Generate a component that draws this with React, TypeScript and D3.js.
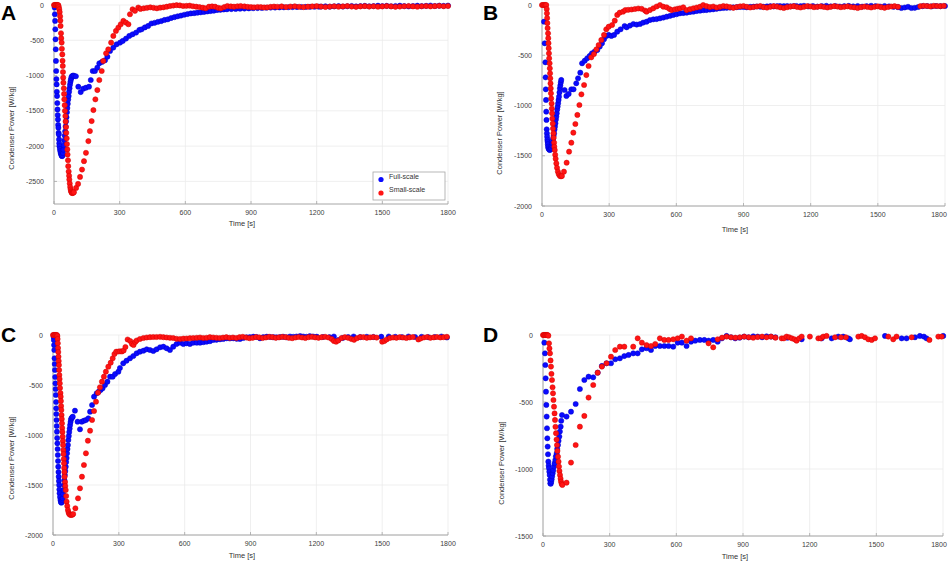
import React from 'react';
import * as d3 from 'd3';

type Pt = [number, number];

// time [s], condenser power [W/kg]
const fullA: Pt[] = [
  [3,-36],[4,-131],[5,-225],[6,-344],[7,-486],[8,-628],[9,-793],[10,-935],[11,-1050],[12,-1125],[13,-1230],[14,-1290],
  [15,-1390],[16,-1480],[17,-1560],[18,-1622],[19,-1700],[20,-1740],[21,-1811],[22,-1834],[23,-1905],[24,-1960],[25,-2000],
  [27,-2040],[29,-2071],[31,-2100],[33,-2119],[35,-2135],[37,-2142],[39,-2130],[41,-2100],[43,-2050],[45,-1990],[47,-1920],
  [49,-1850],[51,-1790],[53,-1720],[55,-1650],[57,-1590],[59,-1520],[61,-1460],[63,-1400],[65,-1340],[67,-1290],[69,-1230],
  [71,-1180],[73,-1130],[75,-1090],[77,-1060],[79,-1035],[81,-1015],[84,-1005],[88,-1000],[93,-1006],[100,-1010],
  [111,-1158],[122,-1234],[134,-1186],[146,-1172],[160,-1158],[168,-1063],[177,-935],[187,-935],[198,-888],[207,-826],
  [219,-807],[233,-784],[244,-732],[256,-651],[271,-604],[286,-557],[302,-533],[314,-509],[329,-476],[344,-438],[359,-415],
  [375,-391],[390,-353],[400,-345],[415,-318],[430,-297],[445,-262],[460,-252],[475,-238],[490,-228],[505,-212],[520,-203],
  [535,-185],[550,-172],[565,-160],[580,-150],[595,-138],[610,-128],[625,-120],[640,-116],[655,-109],[670,-104],[685,-99],
  [700,-92],[715,-86],[730,-80],[745,-72],[760,-68],[775,-64],[790,-61],[810,-58],[830,-55],[850,-52],[870,-50],[890,-48],
  [910,-46],[930,-44],[950,-42],[970,-39],[990,-37],[1010,-36],[1030,-34],[1050,-33],[1070,-32],[1090,-30],[1110,-29],
  [1130,-28],[1150,-27],[1170,-26],[1190,-25],[1210,-24],[1220,-22],[1240,-18],[1260,-24],[1280,-20],[1300,-15],[1320,-22],
  [1340,-18],[1360,-14],[1380,-20],[1400,-16],[1420,-12],[1440,-18],[1460,-15],[1480,-10],[1500,-16],[1520,-12],[1540,-18],
  [1560,-14],[1580,-10],[1600,-15],[1620,-20],[1640,-14],[1660,-10],[1680,-16],[1700,-12],[1720,-8],[1740,-14],[1760,-10],
  [1780,-12],[1800,-8],
];

const smallA: Pt[] = [
  [0,0],[3,0],[6,0],[9,0],[12,0],[15,0],[18,0],[20,-5],[22,-30],[24,-60],[26,-100],[28,-160],[29,-220],[30,-296],[32,-400],
  [33,-470],[35,-533],[36,-620],[38,-700],[39,-790],[40,-864],[41,-950],[42,-1030],[43,-1101],[45,-1180],[46,-1260],
  [47,-1337],[49,-1420],[50,-1500],[52,-1574],[53,-1650],[55,-1730],[56,-1811],[58,-1890],[59,-1970],[61,-2047],[62,-2120],
  [64,-2200],[65,-2284],[67,-2360],[69,-2420],[70,-2473],[72,-2530],[74,-2580],[76,-2615],[78,-2640],[80,-2655],[82,-2663],
  [85,-2665],[88,-2660],[91,-2653],[101,-2592],[110,-2535],[119,-2436],[128,-2332],[137,-2213],[146,-2095],[157,-1929],
  [164,-1787],[172,-1645],[180,-1489],[189,-1337],[198,-1205],[207,-1063],[218,-935],[225,-793],[238,-684],[248,-628],
  [261,-533],[271,-438],[283,-367],[294,-320],[305,-273],[317,-225],[329,-249],[340,-273],[347,-131],[359,-60],[370,-83],
  [385,-36],[395,-55],[410,-47],[425,-40],[440,-33],[455,-40],[470,-47],[485,-38],[500,-33],[515,-24],[530,-14],[545,-8],
  [560,-2],[575,-6],[590,-14],[605,-12],[620,-9],[635,-18],[650,-24],[665,-30],[680,-38],[693,-47],[708,-24],[722,-20],
  [736,-24],[750,-40],[762,-47],[778,-28],[792,-14],[808,-20],[822,-24],[838,-18],[853,-14],[870,-20],[885,-26],[900,-30],
  [914,-33],[930,-28],[945,-30],[960,-35],[975,-33],[990,-26],[1005,-22],[1020,-25],[1040,-20],[1060,-28],[1080,-22],
  [1100,-18],[1120,-25],[1140,-30],[1160,-24],[1180,-20],[1200,-16],[1220,-22],[1240,-28],[1260,-22],[1280,-18],[1300,-24],
  [1320,-20],[1340,-15],[1360,-22],[1380,-26],[1400,-20],[1420,-16],[1440,-22],[1460,-18],[1480,-24],[1500,-20],[1520,-15],
  [1540,-20],[1560,-26],[1580,-22],[1600,-18],[1620,-14],[1640,-20],[1660,-24],[1680,-18],[1700,-15],[1720,-20],[1740,-16],
  [1760,-12],[1780,-18],[1800,-14],
];

const fullB: Pt[] = [
  [9,-166],[12,-381],[15,-570],[16,-720],[17,-839],[18,-945],[19,-1061],[20,-1144],[21,-1237],[22,-1277],[23,-1310],
  [24,-1340],[25,-1360],[26,-1385],[27,-1410],[29,-1425],[31,-1435],[34,-1443],[37,-1440],[40,-1430],[42,-1426],[44,-1400],
  [46,-1376],[48,-1350],[50,-1327],[52,-1300],[54,-1277],[56,-1240],[58,-1210],[60,-1177],[62,-1140],[64,-1110],[66,-1078],
  [68,-1040],[70,-1010],[72,-978],[74,-945],[76,-912],[78,-870],[80,-829],[82,-800],[84,-770],[86,-746],[101,-846],
  [109,-905],[119,-885],[131,-839],[141,-839],[153,-779],[161,-729],[171,-673],[179,-580],[191,-554],[202,-530],[213,-507],
  [223,-481],[235,-464],[247,-448],[258,-414],[268,-381],[277,-341],[288,-308],[298,-298],[310,-308],[322,-298],[336,-265],
  [351,-242],[369,-209],[378,-222],[393,-205],[408,-189],[423,-195],[438,-189],[452,-175],[467,-166],[482,-150],[497,-143],
  [512,-140],[527,-133],[542,-125],[557,-116],[572,-108],[586,-99],[601,-92],[616,-83],[631,-80],[646,-76],[661,-70],
  [676,-66],[691,-60],[706,-56],[721,-52],[735,-50],[750,-46],[765,-43],[780,-38],[795,-33],[810,-30],[825,-28],[840,-26],
  [854,-23],[870,-22],[885,-20],[900,-20],[914,-23],[930,-18],[945,-17],[960,-15],[975,-17],[988,-17],[1005,-14],[1020,-12],
  [1035,-14],[1050,-12],[1063,-10],[1080,-12],[1095,-10],[1110,-13],[1125,-10],[1137,-10],[1155,-12],[1170,-8],[1190,-14],
  [1210,-10],[1230,-16],[1250,-12],[1270,-8],[1290,-14],[1310,-10],[1330,-15],[1350,-12],[1370,-9],[1390,-14],[1410,-10],
  [1430,-16],[1450,-12],[1470,-8],[1490,-12],[1510,-15],[1530,-10],[1550,-14],[1570,-18],[1590,-22],[1605,-30],[1620,-25],
  [1635,-18],[1650,-30],[1665,-28],[1680,-20],[1700,-12],[1720,-10],[1740,-14],[1760,-10],[1780,-12],[1800,-10],
];

const smallB: Pt[] = [
  [0,0],[4,0],[8,0],[12,0],[16,0],[19,0],[21,-40],[22,-83],[23,-130],[24,-180],[25,-230],[27,-282],[28,-330],[29,-380],
  [30,-430],[31,-481],[32,-530],[34,-580],[35,-630],[36,-680],[37,-730],[38,-780],[39,-830],[40,-879],[41,-930],[43,-980],
  [44,-1030],[45,-1078],[46,-1130],[48,-1180],[49,-1230],[51,-1277],[52,-1320],[54,-1370],[55,-1410],[57,-1443],[59,-1490],
  [61,-1530],[64,-1576],[67,-1620],[71,-1658],[75,-1685],[80,-1701],[85,-1705],[89,-1701],[98,-1658],[110,-1569],
  [121,-1459],[131,-1370],[140,-1270],[149,-1184],[158,-1094],[167,-995],[176,-889],[188,-796],[198,-697],[208,-607],
  [220,-521],[232,-488],[243,-441],[253,-398],[265,-348],[277,-298],[287,-242],[298,-216],[313,-199],[325,-156],[336,-99],
  [347,-76],[362,-66],[372,-50],[385,-48],[400,-45],[415,-40],[430,-35],[445,-38],[460,-55],[467,-66],[482,-50],[497,-33],
  [512,-15],[527,0],[542,-17],[557,-23],[570,-40],[579,-50],[594,-43],[606,-38],[616,-33],[631,-23],[646,-50],[661,-42],
  [676,-33],[691,-25],[706,-17],[720,0],[735,-12],[750,-20],[765,-15],[780,-25],[795,-18],[810,-10],[825,-14],[840,-22],
  [855,-28],[870,-20],[885,-14],[900,-10],[915,-18],[930,-25],[945,-20],[960,-15],[975,-10],[990,-22],[1005,-26],[1020,-18],
  [1035,-12],[1050,-16],[1065,-24],[1080,-30],[1095,-22],[1110,-16],[1125,-12],[1140,-20],[1155,-25],[1170,-18],[1185,-12],
  [1200,-15],[1215,-22],[1230,-18],[1245,-14],[1260,-20],[1275,-25],[1290,-18],[1305,-12],[1320,-16],[1335,-22],[1350,-18],
  [1365,-14],[1380,-20],[1395,-24],[1410,-30],[1425,-22],[1440,-16],[1455,-20],[1470,-25],[1485,-18],[1500,-14],[1515,-22],
  [1530,-28],[1545,-20],[1560,-15],[1575,-12],[1590,-18],[1690,-12],[1705,-8],[1720,-10],[1735,-14],[1750,-8],[1765,-10],
  [1780,-12],[1795,-8],
];

const fullC: Pt[] = [
  [3,-20],[4,-50],[5,-100],[6,-150],[7,-233],[8,-290],[9,-350],[10,-420],[11,-483],[12,-540],[13,-600],[14,-670],
  [14.5,-733],[15,-790],[16,-850],[17,-910],[18,-967],[19,-1030],[20,-1083],[21,-1140],[22,-1200],[23,-1260],[24,-1317],
  [25,-1370],[26,-1417],[27,-1460],[28,-1500],[29,-1545],[30,-1583],[32,-1620],[34,-1650],[36,-1670],[38,-1677],[40,-1670],
  [42,-1650],[44,-1633],[46,-1590],[48,-1550],[50,-1500],[52,-1450],[54,-1400],[56,-1360],[58,-1317],[60,-1270],[62,-1230],
  [64,-1183],[66,-1140],[68,-1100],[70,-1050],[72,-1010],[74,-970],[76,-935],[78,-900],[80,-870],[82,-845],[84,-833],
  [87,-825],[90,-817],[100,-757],[112,-867],[123,-943],[131,-867],[141,-857],[150,-850],[161,-833],[169,-767],[178,-700],
  [187,-617],[199,-583],[208,-567],[217,-550],[226,-533],[237,-500],[248,-467],[260,-417],[272,-417],[283,-390],[298,-367],
  [305,-330],[320,-283],[335,-257],[351,-233],[366,-210],[381,-183],[396,-167],[412,-157],[427,-143],[442,-150],[457,-160],
  [472,-143],[488,-123],[503,-117],[518,-133],[533,-150],[548,-117],[563,-90],[579,-77],[594,-90],[609,-83],[624,-90],
  [639,-77],[655,-77],[670,-77],[685,-72],[700,-67],[715,-62],[730,-50],[745,-48],[761,-43],[776,-40],[791,-33],[806,-35],
  [822,-33],[837,-38],[852,-40],[867,-30],[882,-23],[897,-22],[913,-17],[928,-20],[943,-33],[958,-22],[974,-17],[990,-20],
  [1005,-22],[1019,-23],[1035,-20],[1050,-18],[1065,-23],[1080,-15],[1095,-18],[1110,-15],[1126,-10],[1140,-15],[1155,-18],
  [1170,-12],[1185,-15],[1202,-17],[1230,-20],[1260,-22],[1280,-15],[1300,-50],[1320,-30],[1345,-20],[1370,-15],[1400,-22],
  [1430,-18],[1460,-20],[1496,-17],[1530,-15],[1560,-18],[1590,-22],[1620,-15],[1650,-20],[1680,-18],[1710,-22],[1740,-20],
  [1770,-15],[1795,-25],
];

const smallC: Pt[] = [
  [0,0],[3,0],[6,0],[9,0],[12,0],[15,0],[18,0],[20,-10],[21,-40],[22,-83],[23,-130],[24,-170],[25,-217],[26,-260],[27,-300],
  [28,-350],[29,-400],[30,-440],[31,-483],[32,-530],[34,-580],[35,-617],[36,-660],[37,-710],[38,-750],[39,-800],[40,-840],
  [41,-883],[42,-930],[43,-970],[44,-1017],[45,-1060],[46,-1100],[47,-1150],[48,-1190],[49,-1240],[50,-1283],[51,-1330],
  [52,-1370],[53,-1417],[55,-1470],[56,-1510],[58,-1550],[60,-1610],[62,-1667],[65,-1710],[68,-1750],[71,-1775],[74,-1790],
  [78,-1798],[83,-1800],[88,-1797],[92,-1790],[102,-1733],[114,-1633],[123,-1533],[132,-1417],[141,-1300],[150,-1183],
  [159,-1057],[169,-957],[178,-850],[187,-760],[196,-667],[205,-577],[214,-523],[223,-467],[232,-417],[241,-367],[252,-317],
  [263,-277],[272,-233],[280,-190],[288,-167],[298,-165],[306,-163],[314,-165],[322,-155],[330,-120],[340,-45],[352,-60],
  [360,-90],[367,-100],[375,-70],[381,-55],[396,-40],[412,-30],[427,-25],[442,-22],[457,-20],[472,-20],[488,-18],[503,-22],
  [518,-25],[533,-28],[548,-30],[563,-38],[579,-40],[594,-36],[609,-35],[624,-32],[639,-30],[655,-28],[670,-25],[685,-30],
  [700,-28],[715,-22],[730,-25],[745,-28],[760,-30],[775,-26],[790,-22],[805,-28],[820,-25],[835,-30],[850,-22],[865,-18],
  [880,-25],[895,-32],[910,-28],[925,-20],[940,-24],[955,-30],[970,-25],[985,-18],[1000,-22],[1015,-28],[1030,-24],
  [1045,-18],[1060,-22],[1075,-28],[1090,-32],[1105,-25],[1120,-20],[1135,-25],[1150,-30],[1165,-22],[1180,-18],[1195,-24],
  [1210,-28],[1225,-22],[1240,-18],[1255,-25],[1270,-40],[1280,-60],[1290,-67],[1300,-55],[1315,-30],[1330,-22],[1345,-28],
  [1360,-40],[1372,-48],[1385,-32],[1400,-20],[1415,-22],[1430,-28],[1445,-24],[1460,-20],[1475,-26],[1500,-67],[1510,-60],
  [1520,-45],[1535,-30],[1550,-25],[1565,-28],[1580,-22],[1595,-25],[1610,-30],[1625,-24],[1640,-20],[1665,-45],[1675,-35],
  [1690,-25],[1705,-20],[1720,-28],[1735,-24],[1750,-20],[1765,-25],[1780,-22],[1795,-18],
];

const fullD: Pt[] = [
  [6,-57],[9,-137],[10.5,-224],[12,-323],[13.5,-423],[15,-522],[16.5,-609],[18,-696],[19.5,-771],[21,-833],[22.5,-890],
  [24,-945],[25.5,-975],[27,-995],[28.5,-1020],[30,-1045],[31.5,-1080],[33,-1107],[35,-1110],[37,-1095],[39,-1077],
  [41,-1055],[43.5,-1032],[46,-1010],[49.5,-982],[52,-958],[55.5,-933],[58,-905],[61.5,-883],[64,-850],[67.5,-821],
  [70,-790],[73.5,-758],[76,-720],[79.5,-684],[82,-640],[85.5,-597],[106,-609],[126,-572],[147,-515],[166,-403],[186,-336],
  [205,-311],[226,-316],[246,-281],[265,-231],[286,-211],[306,-211],[325,-181],[346,-174],[366,-157],[385,-149],[406,-137],
  [426,-137],[445,-107],[466,-99],[486,-112],[505,-82],[526,-82],[546,-82],[565,-82],[586,-87],[606,-57],[625,-57],
  [646,-82],[666,-50],[685,-42],[706,-37],[726,-37],[745,-42],[766,-37],[786,-50],[805,-25],[826,-7],[846,-17],[865,-25],
  [885,-20],[905,-12],[925,-17],[946,-10],[966,-12],[986,-17],[1006,-10],[1026,-12],[1046,-17],[1100,-20],[1164,-32],
  [1254,-25],[1299,-25],[1329,-12],[1351,-12],[1374,-25],[1381,-32],[1539,-7],[1614,-25],[1636,-25],[1674,-17],[1696,-7],
  [1714,-12],[1726,-25],[1801,-7],
];

const smallD: Pt[] = [
  [0,0],[3,0],[6,0],[9,0],[12,0],[15,0],[18,0],[21,0],[24,-5],[27,-62],[29,-100],[31.5,-137],[34,-190],[36,-236],[38,-290],
  [40.5,-336],[43,-390],[45,-435],[47,-485],[49.5,-535],[52,-585],[54,-634],[56,-685],[58.5,-733],[61,-780],[63,-821],
  [65,-865],[67.5,-908],[70,-945],[72,-982],[74,-1015],[76.5,-1045],[79,-1072],[81,-1094],[84,-1110],[87,-1119],
  [106,-1102],[126,-952],[147,-821],[166,-684],[186,-604],[205,-467],[226,-373],[246,-281],[265,-236],[286,-211],[306,-162],
  [325,-112],[346,-87],[366,-87],[406,-87],[426,-25],[445,-57],[466,-75],[486,-82],[505,-67],[526,-25],[546,-37],[565,-37],
  [586,-32],[606,-25],[625,-12],[646,-42],[666,-25],[745,-62],[766,-92],[786,-32],[806,-20],[826,-12],[846,-17],[866,-20],
  [886,-17],[906,-12],[926,-17],[946,-20],[966,-15],[986,-12],[1006,-17],[1026,-12],[1046,-20],[1074,-25],[1084,-25],
  [1096,-12],[1108,-17],[1120,-25],[1132,-32],[1141,-42],[1153,-25],[1164,-12],[1201,-12],[1239,-25],[1250,-25],[1261,-12],
  [1276,-7],[1314,-17],[1341,-17],[1363,-17],[1419,-12],[1434,-7],[1449,-17],[1464,-32],[1479,-37],[1494,-25],[1554,-12],
  [1576,-32],[1591,-12],[1659,-17],[1739,-37],[1779,-12],[1794,-12],
];

const timeTicks = [0, 300, 600, 900, 1200, 1500, 1800];
const powerTicksA = [0, -500, -1000, -1500, -2000, -2500];
const powerTicksBC = [0, -500, -1000, -1500, -2000];
const powerTicksD = [0, -500, -1000, -1500];
const seriesNames = ['Full-scale', 'Small-scale'];

const BLUE = '#0a0aff';
const RED = '#ff1414';
const FONT = '"Liberation Sans", Arial, sans-serif';
const W = 948;

interface PanelProps {
  letter: string;
  full: Pt[];
  small: Pt[];
  yMin: number;
  yTicks: number[];
  box: { x0: number; x1: number; y0: number; y1: number };
  ylab: [number, number];
  xlab: [number, number];
  letterPos: [number, number];
  legend?: boolean;
}

const Panel: React.FC<PanelProps> = ({ letter, full, small, yMin, yTicks, box, ylab, xlab, letterPos, legend }) => {
  const x = d3.scaleLinear().domain([0, 1800]).range([box.x0, box.x1]);
  const y = d3.scaleLinear().domain([yMin, 0]).range([box.y1, box.y0]);

  return (
    <g>
      {timeTicks.map(t => (
        <line key={'gx' + t} x1={x(t)} x2={x(t)} y1={box.y0} y2={box.y1} stroke="#ebebeb" strokeWidth={0.8} />
      ))}
      {yTicks.map(v => (
        <line key={'gy' + v} x1={box.x0} x2={box.x1} y1={y(v)} y2={y(v)} stroke="#ebebeb" strokeWidth={0.8} />
      ))}
      <line x1={box.x0} x2={box.x0} y1={box.y0} y2={box.y1} stroke="#a6a6a6" strokeWidth={1} />
      <line x1={box.x0} x2={box.x1} y1={box.y1} y2={box.y1} stroke="#a6a6a6" strokeWidth={1} />
      {timeTicks.map(t => (
        <g key={'tx' + t}>
          <line x1={x(t)} x2={x(t)} y1={box.y1} y2={box.y1 - 3} stroke="#a6a6a6" strokeWidth={0.8} />
          <text x={Math.min(x(t), W - 9)} y={box.y1 + 11} fontSize={7} fill="#404040" textAnchor="middle" fontFamily={FONT}>{t}</text>
        </g>
      ))}
      {yTicks.map(v => (
        <g key={'ty' + v}>
          <line x1={box.x0} x2={box.x0 + 3} y1={y(v)} y2={y(v)} stroke="#a6a6a6" strokeWidth={0.8} />
          <text x={box.x0 - 10} y={y(v) + 2.5} fontSize={7} fill="#404040" textAnchor="end" fontFamily={FONT}>{v}</text>
        </g>
      ))}
      {full.map((d, i) => (
        <circle key={'f' + i} cx={x(d[0])} cy={y(d[1])} r={2.6} fill={BLUE} stroke="#0000c8" strokeWidth={0.5} />
      ))}
      {small.map((d, i) => (
        <circle key={'s' + i} cx={x(d[0])} cy={y(d[1])} r={2.6} fill={RED} stroke="#d20000" strokeWidth={0.5} />
      ))}
      <text x={ylab[0]} y={ylab[1]} fontSize={7.5} fill="#333" textAnchor="middle" fontFamily={FONT}
        transform={`rotate(-90 ${ylab[0]} ${ylab[1]})`} dominantBaseline="middle">Condenser Power [W/kg]</text>
      <text x={xlab[0]} y={xlab[1]} fontSize={7.5} fill="#333" textAnchor="middle" fontFamily={FONT}>Time [s]</text>
      <text x={letterPos[0]} y={letterPos[1]} fontSize={21} fontWeight="bold" fill="#000" fontFamily={FONT}>{letter}</text>
      {legend && (
        <g>
          <rect x={373} y={172} width={72} height={28} fill="#fff" stroke="#a6a6a6" strokeWidth={0.8} />
          <circle cx={381} cy={179.5} r={2.6} fill={BLUE} />
          <text x={389} y={178.5} fontSize={7} fill="#333" fontFamily={FONT}>{seriesNames[0]}</text>
          <circle cx={381} cy={193} r={2.6} fill={RED} />
          <text x={389} y={192} fontSize={7} fill="#333" fontFamily={FONT}>{seriesNames[1]}</text>
        </g>
      )}
    </g>
  );
};

export default function App() {
  return (
    <svg width={948} height={562} style={{ position: 'absolute', left: 0, top: 0, background: '#fff' }}>
      <rect width={948} height={562} fill="#fff" />
      <Panel letter="A" full={fullA} small={smallA} yMin={-2820} yTicks={powerTicksA}
        box={{ x0: 54, x1: 448, y0: 5, y1: 204 }} ylab={[12, 128]} xlab={[242, 226]} letterPos={[1, 20]} legend />
      <Panel letter="B" full={fullB} small={smallB} yMin={-2000} yTicks={powerTicksBC}
        box={{ x0: 542, x1: 945, y0: 5, y1: 206 }} ylab={[500, 133]} xlab={[735, 232]} letterPos={[483, 20]} />
      <Panel letter="C" full={fullC} small={smallC} yMin={-2000} yTicks={powerTicksBC}
        box={{ x0: 53, x1: 448, y0: 335, y1: 535 }} ylab={[12, 458]} xlab={[242, 558]} letterPos={[1, 342]} />
      <Panel letter="D" full={fullD} small={smallD} yMin={-1500} yTicks={powerTicksD}
        box={{ x0: 543, x1: 943, y0: 335, y1: 536 }} ylab={[502, 463]} xlab={[735, 559]} letterPos={[483, 342]} />
    </svg>
  );
}
